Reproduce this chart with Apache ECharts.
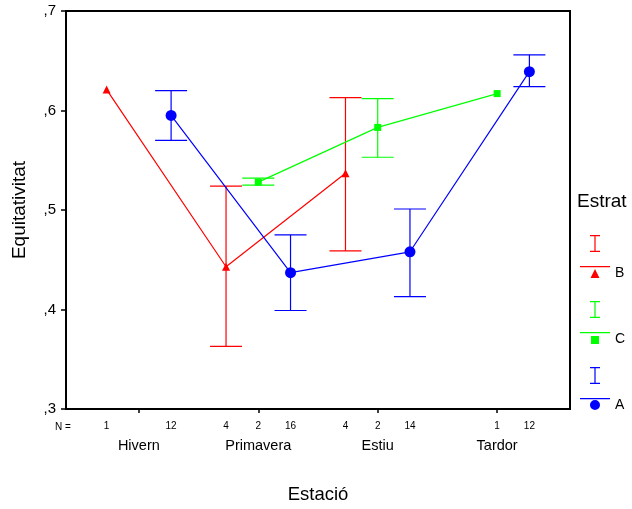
<!DOCTYPE html>
<html>
<head>
<meta charset="utf-8">
<script src="https://cdn.jsdelivr.net/npm/echarts@6/dist/echarts.min.js"></script>
<style>html,body{margin:0;padding:0;background:#fff;}#c{width:632px;height:509px;}</style>
</head>
<body>
<div id="c"></div>
<script>
const categories = ['Hivern', 'Primavera', 'Estiu', 'Tardor'];
const groups = ['B', 'C', 'A'];
const groupOffsets = [-0.27, 0, 0.27];
const meanB = [0.621, 0.443, 0.537, null];
const lowB  = [null, 0.363, 0.459, null];
const highB = [null, 0.524, 0.613, null];
const nB    = [1, 4, 4, null];
const meanC = [null, 0.528, 0.583, 0.617];
const lowC  = [null, 0.525, 0.553, null];
const highC = [null, 0.532, 0.612, null];
const nC    = [null, 2, 2, 1];
const meanA = [0.595, 0.437, 0.458, 0.639];
const lowA  = [0.570, 0.399, 0.413, 0.624];
const highA = [0.620, 0.475, 0.501, 0.656];
const nA    = [12, 16, 14, 12];
const yTicks = [0.3, 0.4, 0.5, 0.6, 0.7];

const FONT = 'Liberation Sans, Arial, sans-serif';
const colors = { B: '#ff0000', C: '#00ff00', A: '#0000ff' };
const symbols = { B: 'triangle', C: 'rect', A: 'circle' };
const symbolSizes = { B: 8, C: 7, A: 11 };
const legendIcons = {
  B: 'path://M10,0H20V1.2H10Z M14.4,0H15.6V17H14.4Z M10,15.8H20V17H10Z M0,31H30V32.2H0Z M15,34L19.5,43L10.5,43Z',
  C: 'path://M10,0H20V1.2H10Z M14.4,0H15.6V17H14.4Z M10,15.8H20V17H10Z M0,31H30V32.2H0Z M11,35H19V43H11Z',
  A: 'path://M10,0H20V1.2H10Z M14.4,0H15.6V17H14.4Z M10,15.8H20V17H10Z M0,31H30V32.2H0Z M15,33A5,5,0,1,1,15,43A5,5,0,1,1,15,33Z'
};
const dataByGroup = {
  B: { mean: meanB, low: lowB, high: highB, n: nB },
  C: { mean: meanC, low: lowC, high: highC, n: nC },
  A: { mean: meanA, low: lowA, high: highA, n: nA }
};

const xPos = (ci, gi) => +(ci + 1 + groupOffsets[gi]).toFixed(3);

// N labels
const nPositions = [];
const nLookup = {};
categories.forEach((c, ci) => {
  groups.forEach((g, gi) => {
    const n = dataByGroup[g].n[ci];
    if (n != null) {
      const p = xPos(ci, gi);
      nPositions.push(p);
      nLookup[p.toFixed(3)] = String(n);
    }
  });
});

const series = [];
groups.forEach((g, gi) => {
  const d = dataByGroup[g];
  const errData = [];
  const lineData = [];
  categories.forEach((c, ci) => {
    const x = xPos(ci, gi);
    if (d.low[ci] != null) errData.push([x, d.low[ci], d.high[ci]]);
    if (d.mean[ci] != null) lineData.push([x, d.mean[ci]]);
  });
  series.push({
    type: 'custom',
    name: 'err' + g,
    silent: true,
    z: 2,
    encode: { x: 0, y: [1, 2] },
    data: errData,
    renderItem: function (params, api) {
      const x = api.value(0);
      const pLo = api.coord([x, api.value(1)]);
      const pHi = api.coord([x, api.value(2)]);
      const hw = 16;
      const st = { stroke: colors[g], lineWidth: 1.2 };
      return {
        type: 'group',
        children: [
          { type: 'line', shape: { x1: pLo[0], y1: pLo[1], x2: pHi[0], y2: pHi[1] }, style: st },
          { type: 'line', shape: { x1: pHi[0] - hw, y1: pHi[1], x2: pHi[0] + hw, y2: pHi[1] }, style: st },
          { type: 'line', shape: { x1: pLo[0] - hw, y1: pLo[1], x2: pLo[0] + hw, y2: pLo[1] }, style: st }
        ]
      };
    }
  });
  series.push({
    type: 'line',
    name: g,
    z: 3,
    data: lineData,
    symbol: symbols[g],
    symbolSize: symbolSizes[g],
    showAllSymbol: true,
    color: colors[g],
    lineStyle: { color: colors[g], width: 1.2 },
    itemStyle: { color: colors[g], borderWidth: 0 },
    emphasis: { disabled: true },
    animation: false
  });
});

const chart = echarts.init(document.getElementById('c'), null, { renderer: 'canvas' });
chart.setOption({
  animation: false,
  backgroundColor: '#ffffff',
  textStyle: { fontFamily: FONT },
  grid: {
    left: 66, top: 11, right: 62, bottom: 98,
    show: true, borderColor: '#000', borderWidth: 2, backgroundColor: 'transparent'
  },
  legend: {
    orient: 'vertical',
    left: 580,
    top: 235,
    padding: 0,
    itemWidth: 30,
    itemHeight: 43,
    itemGap: 20.5,
    selectedMode: false,
    data: groups.map(g => ({ name: g, icon: legendIcons[g] })),
    itemStyle: { borderWidth: 0 },
    formatter: name => '{t|' + name + '}',
    textStyle: {
      fontFamily: FONT, fontSize: 14, color: '#000',
      rich: { t: { fontFamily: FONT, fontSize: 14, color: '#000', padding: [34, 0, 0, 0] } }
    }
  },
  xAxis: [
    {
      type: 'value',
      min: 0.39,
      max: 4.61,
      name: 'Estació',
      nameLocation: 'middle',
      nameGap: 76,
      nameTextStyle: { fontFamily: FONT, fontSize: 18.5, color: '#000' },
      axisLine: { show: true, lineStyle: { color: '#000', width: 2 } },
      axisTick: { show: true, customValues: [1, 2, 3, 4], length: 4, inside: false, lineStyle: { color: '#000', width: 1.5 } },
      axisLabel: {
        show: true,
        customValues: [1, 2, 3, 4],
        formatter: v => categories[Math.round(v) - 1],
        margin: 29,
        fontFamily: FONT, fontSize: 14.5, color: '#000'
      },
      splitLine: { show: false }
    },
    {
      type: 'value',
      min: 0.39,
      max: 4.61,
      position: 'bottom',
      offset: 0,
      axisLine: { show: false },
      axisTick: { show: false },
      axisLabel: {
        show: true,
        customValues: nPositions,
        formatter: v => nLookup[(+v).toFixed(3)] || '',
        margin: 12,
        fontFamily: FONT, fontSize: 10, color: '#000'
      },
      splitLine: { show: false }
    }
  ],
  yAxis: {
    type: 'value',
    min: 0.3,
    max: 0.7,
    interval: 0.1,
    name: 'Equitativitat',
    nameLocation: 'middle',
    nameGap: 37,
    nameTextStyle: { fontFamily: FONT, fontSize: 19, color: '#000' },
    axisLine: { show: true, lineStyle: { color: '#000', width: 2 } },
    axisTick: { show: true, length: 5, inside: false, lineStyle: { color: '#000', width: 1.5 } },
    axisLabel: {
      formatter: v => ',' + Math.round(v * 10),
      margin: 10,
      fontFamily: FONT, fontSize: 15, color: '#000'
    },
    splitLine: { show: false }
  },
  graphic: [
    { type: 'text', left: 577, top: 192, style: { text: 'Estrat', font: '19px ' + FONT, fill: '#000' } },
    { type: 'text', left: 55, top: 422, style: { text: 'N =', font: '10px ' + FONT, fill: '#000' } }
  ],
  series: series
});
</script>
</body>
</html>
